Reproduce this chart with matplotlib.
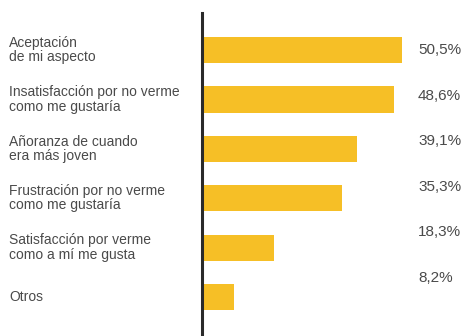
import matplotlib
matplotlib.use("Agg")
import matplotlib.pyplot as plt
import matplotlib.transforms as mtransforms
from matplotlib import font_manager

categories = [
    "Aceptación\nde mi aspecto",
    "Insatisfacción por no verme\ncomo me gustaría",
    "Añoranza de cuando\nera más joven",
    "Frustración por no verme\ncomo me gustaría",
    "Satisfacción por verme\ncomo a mí me gusta",
    "Otros",
]
values = [50.5, 48.6, 39.1, 35.3, 18.3, 8.2]
value_labels = ["50,5%", "48,6%", "39,1%", "35,3%", "18,3%", "8,2%"]

names = {f.name for f in font_manager.fontManager.ttflist}
family = "Liberation Sans Narrow" if "Liberation Sans Narrow" in names else "Liberation Sans"

W, H, DPI = 465, 336, 100
fig = plt.figure(figsize=(W / DPI, H / DPI), dpi=DPI)
ax = fig.add_axes([202 / W, 0, 1 - 202 / W, 1 - 13 / H])

bar_color = "#F6BF26"
text_color = "#4a4a4a"
positions = list(range(len(values)))

ax.barh(positions, values, height=0.53, color=bar_color, left=0)
ax.set_xlim(0, 66.4)
ax.set_ylim(5.79, -0.75)

for s in ["top", "right", "bottom"]:
    ax.spines[s].set_visible(False)
ax.spines["left"].set_linewidth(2.2)
ax.spines["left"].set_color("#2a2a2a")
ax.set_xticks([])
ax.set_yticks([])

# category labels at the left margin, centred on each bar
lab_trans = mtransforms.blended_transform_factory(fig.transFigure, ax.transData)
for p, c in zip(positions, categories):
    fig.text(9 / W, p, c, transform=lab_trans, ha="left", va="center",
             fontsize=10, color=text_color, family=family, linespacing=1.05)

# value labels in a column at the right
val_trans = mtransforms.blended_transform_factory(fig.transFigure, ax.transData)
for p, t in zip(positions, value_labels):
    fig.text(418 / W, p * 0.923, t, transform=val_trans, ha="left", va="center",
             fontsize=11, color=text_color, family=family)

fig.savefig("out.png", dpi=DPI)
